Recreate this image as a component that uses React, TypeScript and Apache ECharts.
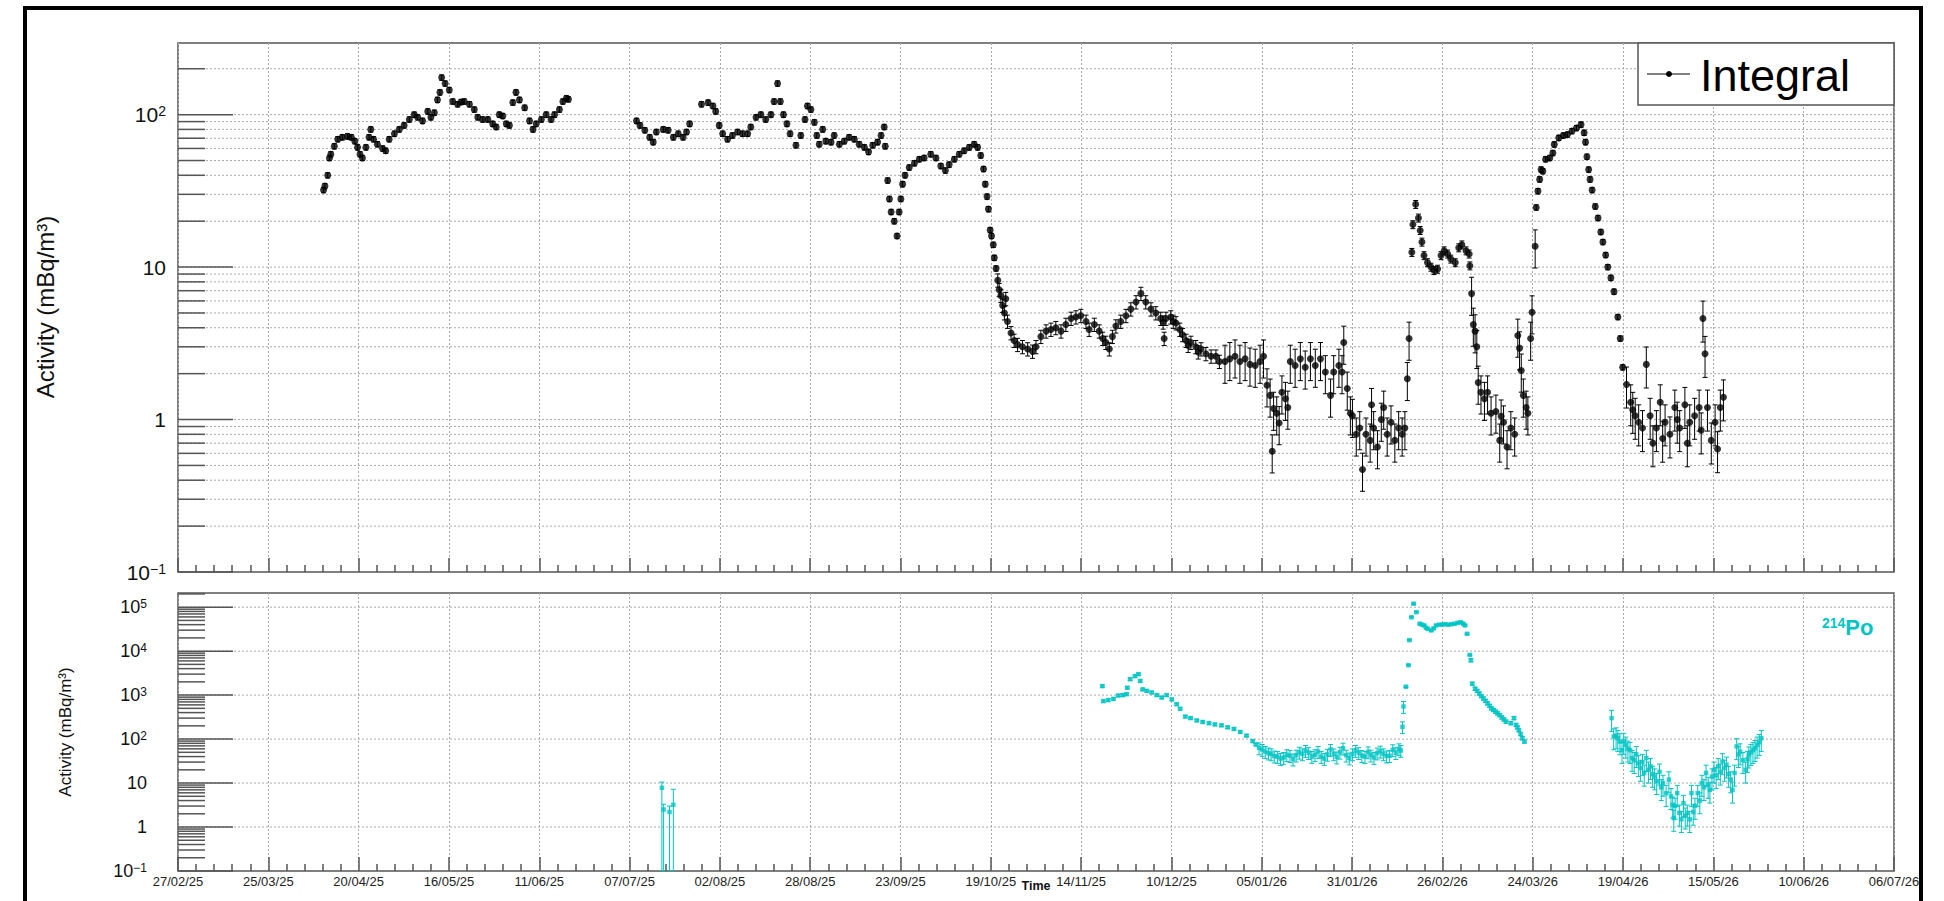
import React, { useEffect, useRef } from 'react';
import * as echarts from 'echarts';

// ---------- axis structure ----------
const DAY0_UTC = Date.UTC(2025, 1, 27); // 27/02/25 = day 0
const X_MIN_DAY = 0;
const X_MAX_DAY = 494; // 06/07/26
const X_STEP_DAYS = 26;
const TOP_Y_MIN = 0.1;
const TOP_Y_MAX = 295;
const BOTTOM_Y_MIN = 0.1;
const BOTTOM_Y_MAX = 2.1e5;
const topDecades = [0.1, 1, 10, 100];
const bottomDecades = [0.1, 1, 10, 100, 1000, 10000, 100000];
const minorMultipliers = [2, 3, 4, 5, 6, 7, 8, 9];

// ---------- Integral (top panel) : [day since 27/02/25, activity mBq/m3] ----------
const integralSeg1 = [[41.9,32],[42.3,34],[43.1,40],[43.6,52],[44,55],[45,62],[46,69],[47.3,71],[48.8,72],[49.9,71],[50.9,67],[51.7,61],[52.4,55],[53.1,52],[54.1,61],[55,71],[55.5,80],[56.3,69],[57.4,64],[58.9,60],[59.8,58],[60.8,69],[62.3,75],[63.7,80],[65.1,85],[66.6,93],[68,100],[69,96],[70.4,91],[71.9,105],[72.8,96],[73.8,103],[74.7,125],[75.4,140],[75.9,175],[76.9,160],[78.1,145],[79.1,122],[80.5,117],[81.5,121],[82.4,122],[83.9,117],[85.3,108],[86.3,96],[87.7,93],[89.2,93],[90.6,87],[91.6,83],[92.5,100],[93.5,98],[94.5,87],[95.4,85],[96.4,120],[97.3,140],[98.3,125],[99.8,111],[101.2,91],[102.2,80],[103.1,87],[104.6,93],[106,100],[107.4,93],[108.4,100],[109.8,108],[110.8,122],[111.8,128],[112.4,126]];
const integralSeg2 = [[132,91],[133,85],[134.4,79],[135.8,71],[136.8,66],[137.7,77],[139.7,80],[141.1,79],[142.6,71],[144,75],[145.4,71],[146.4,77],[147.3,87],[150.7,117],[152.6,120],[154,114],[154.8,105],[155.8,85],[156.8,75],[158.2,69],[159.6,73],[161.1,77],[162.5,75],[164,75],[164.9,83],[166.4,96],[167.8,100],[169.2,93],[170.7,100],[171.6,122],[172.6,160],[173.4,122],[174.3,100],[175.3,87],[176.2,75],[177.9,63],[179.3,73],[180.5,93],[181.2,114],[182.2,108],[183.2,89],[183.9,73],[184.6,64],[185.6,80],[186.5,67],[188,66],[188.9,73],[190.4,64],[191.8,67],[193.2,71],[194.7,69],[196.1,64],[197.6,61],[198.8,57],[200,63],[201.4,66],[202.4,73],[203.3,83],[203.6,62]];
const integralSeg3 = [[204.3,37],[204.8,28],[205.3,23],[206.2,20],[207,16],[207.6,23],[208.1,28],[208.6,35],[209.3,40],[210.5,45],[212,48],[213.4,51],[214.8,52],[216.7,55],[218.2,52],[219.6,46],[220.9,43],[222,47],[223.5,51],[224.9,55],[226.3,58],[227.8,61],[229.2,64],[230.2,61],[231.1,54],[231.9,44],[232.4,35],[232.9,29],[233.3,24],[233.8,17.5],[234.2,16],[234.7,14],[235,11.5],[235.5,9.8],[236,8.2],[236.4,7.1],[236.9,6.5],[237.4,5.6],[237.9,5],[238.3,6.2],[238.8,4.4],[239.8,3.7],[240.7,3.3],[241.7,3.1],[243.1,3.0],[244.6,2.9],[246,2.8],[247,3.0],[248.4,3.5],[249.9,3.8],[251.3,3.9],[252.7,4.0],[254.2,3.8],[255.6,4.2],[257.1,4.6],[258.5,4.7],[259.9,4.8],[261.4,4.4],[262.3,3.9],[263.8,4.2],[265.2,3.8],[266.2,3.4],[267.1,3.2],[268.1,2.9],[269,3.5],[270,4.1],[271.4,4.4],[272.9,4.8],[274.3,5.3],[275.8,5.9],[277.2,6.7],[278.6,5.9],[280.1,5.3],[281.5,5.0],[282.9,4.6],[283.6,4.35],[283.9,3.4],[284.4,4.6],[285.8,4.7],[286.5,4.4],[287.3,4.3],[288.4,3.9],[289.2,3.6],[290.2,3.3],[290.8,3.06],[291.6,3.2],[293,3.0],[293.7,2.77],[294.5,2.9],[295.9,2.7],[297.4,2.6],[298.8,2.6],[299.8,2.4]];
const integralSeg4 = [[301.4,2.4],[302.8,2.5],[304.3,2.6],[305.7,2.4],[307.2,2.5],[308.6,2.3],[310.1,2.26],[311.5,2.4],[312.5,2.6],[313.5,1.68],[314.4,1.44],[315,0.62],[315.4,1.18],[316.3,1.1],[317,0.95],[317.8,1.51],[318.8,1.37],[319.5,1.2],[320.2,2.4],[321.6,2.26],[323.1,2.5],[324.5,2.2],[326,2.5],[327.4,2.26],[328.9,2.5],[330.3,2.05],[331.8,1.44],[332.7,2.05],[334.2,2.26],[335.1,2.05],[335.6,3.2],[336.6,1.6],[337.5,1.1],[338.1,1.06],[339.2,0.8],[340.2,0.88],[341,0.47],[342,0.8],[343.2,0.73],[343.6,1.25],[344.2,0.88],[345.3,0.66],[346.4,1.0],[347.1,1.2],[348.1,0.8],[349.2,0.96],[350.3,0.73],[351.4,0.88],[352.4,0.8],[353.2,0.88],[353.9,1.85],[354.4,3.4]];
const integralSeg5 = [[355.2,12.5],[355.5,19],[356.3,25.8],[357.1,21],[357.6,17.4],[358.1,14.6],[358.7,11.9],[359.7,10.7],[360.7,10],[361.6,9.5],[362.6,9.7],[363.6,11.9],[364.5,12.8],[365.5,12.2],[366.4,11.3],[367.7,10.7],[368.7,13.4],[369.6,14],[370.8,12.8],[371.7,12.2],[371.9,10.2],[372.4,6.7],[372.9,4.2],[373.4,3.8],[373.9,3.0],[374.3,1.75],[375.1,1.51],[376.1,1.37],[377,1.51],[378,1.1],[379.4,1.13],[380.5,0.73],[380.9,1.05],[381.6,0.96],[382.6,0.66],[383.7,0.88],[384.8,0.8],[385.7,3.56],[386.2,2.94],[386.7,2.1],[387.3,1.44],[388.1,1.2],[388.6,1.1],[389.4,3.4],[389.8,5.06],[390.7,13.7],[391,24.6],[391.5,31.5],[392,37.6],[392.4,43.7],[392.9,42.6],[393.7,51],[394.9,52],[395.8,56],[396.2,63.8],[397.5,70.4],[398.8,73],[400,74],[401.3,78],[402.6,81.7],[403.9,86],[404.8,76],[405.2,66],[405.6,53],[406.1,43.6],[406.5,37.6],[407.1,32],[408,25],[408.8,21],[409.6,17],[410.2,14.6],[411,12],[411.6,10],[412.5,8.5],[413.4,6.9],[414.5,4.7],[415.2,3.4],[415.9,2.2],[417,1.7],[418.2,1.3],[418.8,1.16]];
const integralSeg6 = [[419.5,1.06],[420.5,0.96],[421.6,0.88],[422.7,2.3],[423.8,1.06],[424.6,0.7],[425.6,0.88],[426.7,1.3],[427.4,0.75],[428.1,0.96],[429.5,0.8],[430.9,1.2],[431.6,1.0],[432.3,0.88],[433.8,1.25],[434.5,0.7],[435.2,0.96],[436.6,1.06],[437.9,1.2],[438.5,0.85],[439,4.6],[439.6,2.7],[440.3,1.2],[441.4,0.73],[442.5,0.96],[443.2,0.64],[444,1.2],[444.9,1.4]];
// relative uncertainty read per time range: [fromDay, toDay, fraction]
const integralRelErr = [[0,236,0.04],[236,300,0.1],[300,355,0.28],[355,372,0.06],[372,391,0.28],[391,416,0.04],[416,450,0.3]];

// ---------- 214Po (bottom panel) ----------
// early points with explicit [day, value, low, high]
const po214Early = [[139.3,7.8,0.1,10.5],[139.8,2.5,0.1,3.3],[141.5,2.2,0.1,3.0],[142.6,3.2,0.1,7.2]];
const po214SegB = [[266.1,1600],[266.4,730],[267.8,770],[269.3,820],[270.7,980],[272,1000],[273.1,1050],[273.3,1470],[274.1,2300],[275.5,2700],[276.5,3000],[277,2100],[277.7,1350],[278.9,1250],[280.3,1150],[281.8,1000],[283.2,880],[284.6,1000],[286.1,800],[287.5,620],[288.5,490],[290,325],[291.5,300],[293.3,265],[295,245],[296.8,230],[298.5,215],[300.4,205],[302.2,185],[304,170],[305.8,145],[307.6,120],[309.4,90],[310.3,75],[311.2,63],[312.1,58],[313,52],[313.9,48],[314.7,46],[315.6,41],[316.5,40],[317.4,36],[318.3,38],[319.2,44],[320.1,42],[321,35],[321.9,43],[322.8,50],[323.7,46],[324.6,55],[325.5,49],[326.4,40],[327.3,44],[328.2,52],[329.1,40],[330,36],[330.9,45],[331.8,58],[332.7,46],[333.6,39],[334.5,50],[335.4,62],[336.3,43],[337.2,37],[338.1,46],[339,55],[339.9,49],[340.8,42],[341.7,40],[342.6,51],[343.4,43],[344.3,38],[345.2,48],[346.1,53],[347,46],[347.9,41],[348.8,42],[349.7,57],[350.6,49],[351.5,60],[352,55]];
const po214SegC = [[352.5,190],[352.8,550],[353.5,1550],[354.2,4800],[354.5,17800],[355.1,59000],[355.7,120000],[356.5,77000],[357.5,42000],[358.1,40000],[358.7,38500],[359.3,34000],[359.8,32000],[360.8,29600],[361.5,33000],[362.2,38500],[363.1,40000],[364,40000],[364.8,41000],[365.7,40000],[366.6,41000],[367.5,42000],[368.4,44000],[369.3,45500],[370,42000],[370.5,38500],[371.1,24800],[371.9,8200],[372.2,6200],[372.6,1820],[373.4,1400],[374,1250],[374.6,1090],[375.2,950],[375.8,840],[376.4,740],[377,650],[377.6,570],[378.1,500],[378.7,460],[379.3,420],[379.9,385],[380.5,350],[381.1,310],[381.7,280],[382.3,250],[383.7,230],[384.6,300],[385.2,210],[385.6,185],[386,160],[386.5,130],[387,105],[387.6,88]];
const po214SegD = [[412.7,300],[413.3,114],[414,120],[414.5,105],[415.1,88],[415.7,56],[416.2,90],[416.8,74],[417.4,60],[418,56],[418.6,37],[419.2,33],[419.8,45],[420.4,28],[421,22],[421.6,30],[422.1,17],[422.7,37],[423.3,20],[423.9,24],[424.5,16],[425.1,14],[425.7,11],[426.5,18],[427,8],[427.5,10],[428.4,5.9],[429.2,12],[429.8,5],[430.3,3.2],[430.6,1.6],[431,3],[431.6,5.9],[432.2,2.1],[432.8,1.5],[433.4,3.5],[433.9,1.8],[434.5,2.1],[435.2,1.5],[435.7,5.9],[436.2,2.2],[436.7,3],[437.5,5.9],[438.1,4],[438.7,10],[439.3,8],[439.9,17],[440.5,9],[441,7],[441.6,14],[442.2,20],[442.8,15],[443.4,24],[444,18],[444.6,31],[445.2,22],[445.8,26],[446.4,16],[447,12],[447.5,7],[448.1,17],[448.7,68],[449.2,45],[449.7,52],[450.5,33],[451.3,20],[451.8,35],[452.2,44],[452.8,50],[453.4,56],[454,62],[454.6,74],[455.2,85],[455.8,105]];
const po214RelErr = [[260,311,0.06],[311,353,0.3],[353,372,0.04],[372,390,0.08],[410,460,0.5]];

const FONT = '"Liberation Sans", Arial, Helvetica, sans-serif';
const CYAN = '#00c4c4';

const relErrFor = (table: number[][], day: number) => {
  for (const r of table) if (day >= r[0] && day < r[1]) return r[2];
  return 0;
};
const withErr = (pts: number[][], table: number[][]) =>
  pts.map(([d, v]) => {
    const f = relErrFor(table, d);
    return [d, v, v * (1 - f), v * (1 + f)];
  });

const fmtDate = (v: number) => {
  const d = new Date(DAY0_UTC + Math.round(v) * 86400000);
  const p = (n: number) => String(n).padStart(2, '0');
  return `${p(d.getUTCDate())}/${p(d.getUTCMonth() + 1)}/${p(d.getUTCFullYear() % 100)}`;
};

const fmtLog = (v: number) => {
  const l = Math.log10(v);
  const e = Math.round(l);
  if (Math.abs(l - e) > 1e-6) return '';
  if (e === 0) return '{b|1}';
  if (e === 1) return '{b|10}';
  return '{b|10}{s|' + (e < 0 ? '\u2212' + -e : String(e)) + '}';
};

const buildYGridItems = (decades: number[], max: number, minorGrid: boolean) => {
  const items: number[][] = [];
  decades.forEach((d, i) => {
    items.push([0, d, 1, i === 0 ? 0 : 1]);
    minorMultipliers.forEach((m) => {
      const v = m * d;
      if (v <= max) items.push([0, v, 0, minorGrid ? 1 : 0]);
    });
  });
  return items;
};

const renderYGrid = (params: any, api: any) => {
  const cs = params.coordSys;
  const p = api.coord([0, api.value(1)]);
  const y = p[1];
  const major = api.value(2) === 1;
  const showGrid = api.value(3) === 1;
  const children: any[] = [];
  if (showGrid)
    children.push({ type: 'line', shape: { x1: cs.x, y1: y, x2: cs.x + cs.width, y2: y }, style: { stroke: '#a8a8a8', lineWidth: 1, lineDash: [2, 2] } });
  children.push({ type: 'line', shape: { x1: cs.x, y1: y, x2: cs.x + (major ? 55 : 27), y2: y }, style: { stroke: '#555', lineWidth: 1.5 } });
  return { type: 'group', children };
};

const renderErr = (color: string) => (params: any, api: any) => {
  const x = api.value(0);
  const pLo = api.coord([x, api.value(2)]);
  const pHi = api.coord([x, api.value(3)]);
  const cap = 2.5;
  const st = { stroke: color, lineWidth: 1 };
  return {
    type: 'group',
    children: [
      { type: 'line', shape: { x1: pLo[0], y1: pLo[1], x2: pHi[0], y2: pHi[1] }, style: st },
      { type: 'line', shape: { x1: pLo[0] - cap, y1: pLo[1], x2: pLo[0] + cap, y2: pLo[1] }, style: st },
      { type: 'line', shape: { x1: pHi[0] - cap, y1: pHi[1], x2: pHi[0] + cap, y2: pHi[1] }, style: st },
    ],
  };
};

const mkX = (gridIndex: number, showLabels: boolean) => ({
  type: 'value',
  gridIndex,
  min: X_MIN_DAY,
  max: X_MAX_DAY,
  interval: X_STEP_DAYS,
  axisLine: { show: false },
  axisTick: { show: true, inside: true, length: 14, lineStyle: { color: '#555', width: 1.5 } },
  minorTick: { show: true, splitNumber: 5, length: 7, lineStyle: { color: '#555', width: 1.5 } },
  splitLine: { show: true, lineStyle: { color: '#a8a8a8', width: 1, type: [2, 2] } },
  axisLabel: {
    show: showLabels,
    formatter: fmtDate,
    fontSize: 13,
    color: '#222',
    margin: 4,
    fontFamily: FONT,
    hideOverlap: false,
    showMinLabel: true,
    showMaxLabel: true,
  },
});

const mkY = (gridIndex: number, min: number, max: number, big: number, small: number, margin: number) => ({
  type: 'log',
  logBase: 10,
  gridIndex,
  min,
  max,
  axisLine: { show: false },
  axisTick: { show: false },
  splitLine: { show: false },
  axisLabel: {
    formatter: fmtLog,
    margin,
    showMaxLabel: false,
    rich: {
      b: { fontSize: big, fontFamily: FONT, color: '#111' },
      s: { fontSize: small, fontFamily: FONT, color: '#111', verticalAlign: 'top' },
    },
  },
});

export default function App() {
  const ref = useRef<HTMLDivElement>(null);
  useEffect(() => {
    if (!ref.current) return;
    const chart = echarts.init(ref.current, undefined, { renderer: 'svg' });

    const integralAll = [...integralSeg1, ...integralSeg2, ...integralSeg3, ...integralSeg4, ...integralSeg5, ...integralSeg6];
    const po214Main = [...po214SegB, ...po214SegC, ...po214SegD];
    const po214All = [...po214Early.map((r) => [r[0], r[1]]), ...po214Main];
    const integralErr = withErr(integralAll, integralRelErr);
    const po214Err = [...po214Early, ...withErr(po214Main, po214RelErr)];

    const option: any = {
      animation: false,
      backgroundColor: '#ffffff',
      textStyle: { fontFamily: FONT },
      grid: [
        { left: 178, top: 43, width: 1716, height: 529, show: true, borderColor: '#555', borderWidth: 1.5, backgroundColor: 'transparent' },
        { left: 178, top: 593, width: 1716, height: 278, show: true, borderColor: '#555', borderWidth: 1.5, backgroundColor: 'transparent' },
      ],
      xAxis: [mkX(0, false), mkX(1, true)],
      yAxis: [mkY(0, TOP_Y_MIN, TOP_Y_MAX, 21, 14, 12), mkY(1, BOTTOM_Y_MIN, BOTTOM_Y_MAX, 18, 12, 31)],
      series: [
        { type: 'custom', name: 'topGrid', xAxisIndex: 0, yAxisIndex: 0, silent: true, clip: false, z: 1, encode: { x: 0, y: 1 }, renderItem: renderYGrid, data: buildYGridItems(topDecades, TOP_Y_MAX, true) },
        { type: 'custom', name: 'bottomGrid', xAxisIndex: 1, yAxisIndex: 1, silent: true, clip: false, z: 1, encode: { x: 0, y: 1 }, renderItem: renderYGrid, data: buildYGridItems(bottomDecades, BOTTOM_Y_MAX, false) },
        { type: 'custom', name: 'Integral err', xAxisIndex: 0, yAxisIndex: 0, silent: true, clip: true, z: 2, encode: { x: 0, y: [1, 2, 3] }, renderItem: renderErr('#000'), data: integralErr },
        { type: 'scatter', name: 'Integral', xAxisIndex: 0, yAxisIndex: 0, silent: true, z: 3, symbol: 'circle', symbolSize: 7, itemStyle: { color: '#000' }, data: integralAll },
        { type: 'custom', name: '214Po err', xAxisIndex: 1, yAxisIndex: 1, silent: true, clip: true, z: 2, encode: { x: 0, y: [1, 2, 3] }, renderItem: renderErr(CYAN), data: po214Err },
        { type: 'scatter', name: '214Po', xAxisIndex: 1, yAxisIndex: 1, silent: true, z: 3, symbol: 'rect', symbolSize: 4.5, itemStyle: { color: CYAN }, data: po214All },
      ],
      graphic: [
        { type: 'rect', z: 200, silent: true, shape: { x: 25, y: 8, width: 1896, height: 920 }, style: { fill: 'none', stroke: '#000', lineWidth: 4 } },
        { type: 'rect', z: 100, silent: true, shape: { x: 1638, y: 43, width: 256, height: 62 }, style: { fill: '#fff', stroke: '#555', lineWidth: 1.5 } },
        { type: 'line', z: 101, silent: true, shape: { x1: 1647, y1: 74, x2: 1690, y2: 74 }, style: { stroke: '#000', lineWidth: 1.2 } },
        { type: 'circle', z: 101, silent: true, shape: { cx: 1669, cy: 74, r: 3 }, style: { fill: '#000' } },
        { type: 'text', z: 101, silent: true, x: 1700, y: 75, style: { text: 'Integral', fontSize: 45, fontFamily: FONT, fill: '#000', align: 'left', verticalAlign: 'middle', textAlign: 'left', textVerticalAlign: 'middle' } },
        { type: 'text', z: 101, silent: true, x: 45, y: 307, rotation: Math.PI / 2, style: { text: 'Activity (mBq/m\u00b3)', fontSize: 24, fontFamily: FONT, fill: '#111', align: 'center', verticalAlign: 'middle', textAlign: 'center', textVerticalAlign: 'middle' } },
        { type: 'text', z: 101, silent: true, x: 65, y: 732, rotation: Math.PI / 2, style: { text: 'Activity (mBq/m\u00b3)', fontSize: 17, fontFamily: FONT, fill: '#111', align: 'center', verticalAlign: 'middle', textAlign: 'center', textVerticalAlign: 'middle' } },
        { type: 'text', z: 101, silent: true, x: 1036, y: 886, style: { text: 'Time', fontSize: 12.5, fontWeight: 'bold', fontFamily: FONT, fill: '#111', align: 'center', verticalAlign: 'middle', textAlign: 'center', textVerticalAlign: 'middle' } },
        {
          type: 'text', z: 101, silent: true, x: 1822, y: 627,
          style: {
            text: '{s|214}{b|Po}',
            align: 'left', verticalAlign: 'middle', textAlign: 'left', textVerticalAlign: 'middle',
            rich: {
              s: { fontSize: 14, fontWeight: 'bold', fontFamily: FONT, fill: CYAN, color: CYAN, verticalAlign: 'top' },
              b: { fontSize: 22, fontWeight: 'bold', fontFamily: FONT, fill: CYAN, color: CYAN },
            },
          },
        },
      ],
    };
    chart.setOption(option);
    return () => chart.dispose();
  }, []);
  return <div ref={ref} style={{ position: 'fixed', left: 0, top: 0, width: 1944, height: 901, background: '#fff' }} />;
}
